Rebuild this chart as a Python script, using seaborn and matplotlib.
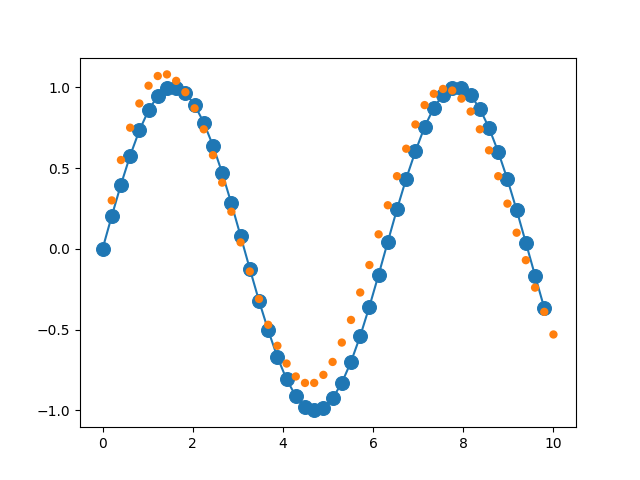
import matplotlib
matplotlib.use("Agg")
import matplotlib.pyplot as plt
import seaborn as sns
import numpy as np

x_all = [i * 10 / 49 for i in range(50)]
blue_y = [0, 0.203, 0.398, 0.577, 0.733, 0.858, 0.948, 0.996, 0.998, 0.965, 0.892, 0.781, 0.639,
          0.470, 0.281, 0.080, -0.123, -0.321, -0.504, -0.670, -0.808, -0.912, -0.976, -1.000,
          -0.983, -0.925, -0.830, -0.699, -0.540, -0.357, -0.160, 0.044, 0.246, 0.435, 0.604,
          0.755, 0.874, 0.955, 0.996, 0.995, 0.951, 0.868, 0.748, 0.600, 0.430, 0.240, 0.038,
          -0.165, -0.366]
orange_y = [0.30, 0.55, 0.75, 0.90, 1.01, 1.07, 1.08, 1.04, 0.97, 0.87, 0.74, 0.58, 0.41, 0.23,
            0.04, -0.14, -0.31, -0.47, -0.60, -0.71, -0.79, -0.83, -0.83, -0.78, -0.70, -0.58,
            -0.44, -0.27, -0.10, 0.09, 0.27, 0.45, 0.62, 0.77, 0.89, 0.96, 0.99, 0.98, 0.93,
            0.85, 0.74, 0.61, 0.45, 0.28, 0.10, -0.07, -0.24, -0.39, -0.53]
blue_x = x_all[:len(blue_y)]
orange_x = x_all[1:]

fig, ax = plt.subplots(figsize=(6.4, 4.8), dpi=100)
sns.lineplot(x=blue_x, y=blue_y, ax=ax, color="#1f77b4", marker="o", markersize=10,
             markeredgecolor="#1f77b4")
sns.scatterplot(x=orange_x, y=orange_y, ax=ax, color="#ff7f0e", s=36, edgecolor="none", zorder=3)
fig.savefig("out.png")
